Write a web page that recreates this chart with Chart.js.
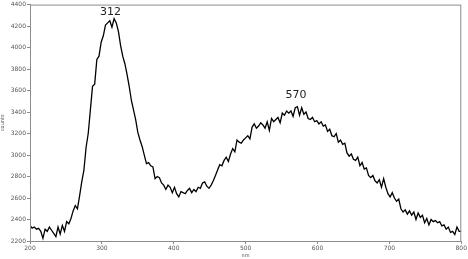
<!DOCTYPE html>
<html>
<head>
<meta charset="utf-8">
<script src="https://cdn.jsdelivr.net/npm/chart.js@4/dist/chart.umd.min.js"></script>
<style>
  html, body { margin: 0; padding: 0; background: #fff; }
  #wrap { width: 468px; height: 259px; }
</style>
</head>
<body>
<div id="wrap"><canvas id="spectrum" width="468" height="259"></canvas></div>
<script>
// wavelength (nm)
const wavelengths = [
  200, 203, 206, 209, 212, 215, 218, 221, 224, 227, 230, 233, 236, 239, 242, 245, 248, 251, 254, 257,
  260, 263, 266, 269, 272, 275, 278, 281, 284, 287, 290, 293, 296, 299, 302, 305, 308, 311, 314, 317,
  320, 323, 326, 329, 332, 335, 338, 341, 344, 347, 350, 353, 356, 359, 362, 365, 368, 371, 374, 377,
  380, 383, 386, 389, 392, 395, 398, 401, 404, 407, 410, 413, 416, 419, 422, 425, 428, 431, 434, 437,
  440, 443, 446, 449, 452, 455, 458, 461, 464, 467, 470, 473, 476, 479, 482, 485, 488, 491, 494, 497,
  500, 503, 506, 509, 512, 515, 518, 521, 524, 527, 530, 533, 536, 539, 542, 545, 548, 551, 554, 557,
  560, 563, 566, 569, 572, 575, 578, 581, 584, 587, 590, 593, 596, 599, 602, 605, 608, 611, 614, 617,
  620, 623, 626, 629, 632, 635, 638, 641, 644, 647, 650, 653, 656, 659, 662, 665, 668, 671, 674, 677,
  680, 683, 686, 689, 692, 695, 698, 701, 704, 707, 710, 713, 716, 719, 722, 725, 728, 731, 734, 737,
  740, 743, 746, 749, 752, 755, 758, 761, 764, 767, 770, 773, 776, 779, 782, 785, 788, 791, 794, 797,
  800
];

// counts
const counts = [
  2345, 2320, 2330, 2310, 2318, 2290, 2225, 2310, 2290, 2330, 2300, 2270, 2240, 2330, 2265, 2345, 2290, 2380, 2360, 2410,
  2480, 2530, 2500, 2620, 2750, 2860, 3070, 3200, 3420, 3640, 3660, 3890, 3920, 4050, 4110, 4210, 4230, 4250, 4190, 4270,
  4230, 4150, 4020, 3920, 3850, 3750, 3640, 3510, 3420, 3330, 3210, 3140, 3080, 3000, 2920, 2930, 2900, 2890, 2780, 2800,
  2790, 2740, 2720, 2680, 2720, 2700, 2650, 2700, 2640, 2610, 2660, 2650, 2640, 2670, 2690, 2650, 2680, 2660, 2700, 2690,
  2740, 2750, 2710, 2690, 2720, 2760, 2810, 2860, 2910, 2900, 2950, 2980, 2940, 3010, 3060, 3030, 3140, 3120, 3110, 3140,
  3160, 3180, 3150, 3260, 3290, 3250, 3270, 3300, 3280, 3250, 3310, 3230, 3340, 3310, 3330, 3350, 3300, 3390, 3370, 3410,
  3390, 3410, 3360, 3440, 3450, 3370, 3440, 3380, 3400, 3340, 3330, 3350, 3310, 3320, 3290, 3310, 3270, 3280, 3220, 3240,
  3180, 3170, 3200, 3120, 3140, 3100, 3110, 3020, 2990, 3010, 2960, 2950, 2980, 2900, 2930, 2870, 2880, 2810, 2790, 2810,
  2760, 2740, 2770, 2700, 2780, 2700, 2640, 2610, 2650, 2600, 2570, 2590, 2500, 2470, 2490, 2450, 2480, 2440, 2470, 2400,
  2460, 2420, 2440, 2370, 2410, 2350, 2400, 2380, 2390, 2370, 2380, 2340, 2350, 2310, 2330, 2280, 2290, 2260, 2330, 2290,
  2290
];

// peak labels
const peakNm = [312, 570];
const peakLabelCounts = [4280, 3510];

const points = wavelengths.map((w, i) => ({ x: w, y: counts[i] }));

const frameAndPeaks = {
  id: 'frameAndPeaks',
  afterDraw(chart) {
    const { ctx, chartArea, scales } = chart;
    ctx.save();
    ctx.strokeStyle = '#8c8c8c';
    ctx.lineWidth = 1;
    ctx.strokeRect(chartArea.left + 0.5, chartArea.top + 0.5,
      chartArea.right - chartArea.left - 1, chartArea.bottom - chartArea.top);
    ctx.fillStyle = '#222';
    ctx.font = '11px "DejaVu Sans"';
    ctx.textAlign = 'center';
    ctx.textBaseline = 'bottom';
    peakNm.forEach((nm, i) => {
      ctx.fillText(String(nm), scales.x.getPixelForValue(nm), scales.y.getPixelForValue(peakLabelCounts[i]));
    });
    ctx.restore();
  }
};

new Chart(document.getElementById('spectrum').getContext('2d'), {
  type: 'line',
  data: {
    datasets: [{
      data: points,
      borderColor: '#000',
      borderWidth: 1.3,
      pointRadius: 0,
      tension: 0,
      fill: false
    }]
  },
  options: {
    responsive: false,
    animation: false,
    layout: { padding: { top: 4, right: 6, left: 0, bottom: 0 } },
    plugins: {
      legend: { display: false },
      tooltip: { enabled: false }
    },
    scales: {
      x: {
        type: 'linear',
        min: 200,
        max: 800,
        afterFit: (s) => { s.height = 18; },
        ticks: {
          stepSize: 100,
          color: '#555',
          font: { family: 'DejaVu Sans', size: 6 },
          padding: 1,
          maxRotation: 0,
          callback: (v) => String(v)
        },
        grid: { drawOnChartArea: false, color: '#8c8c8c', tickLength: 3 },
        border: { color: '#8c8c8c' },
        title: {
          display: true,
          text: 'nm',
          color: '#555',
          font: { family: 'DejaVu Sans', size: 5 },
          padding: 0
        }
      },
      y: {
        min: 2200,
        max: 4400,
        afterFit: (s) => { s.width = 30; },
        ticks: {
          stepSize: 200,
          color: '#555',
          font: { family: 'DejaVu Sans', size: 6 },
          padding: 1,
          callback: (v) => String(v)
        },
        grid: { drawOnChartArea: false, color: '#8c8c8c', tickLength: 3 },
        border: { color: '#8c8c8c' },
        title: {
          display: true,
          text: 'counts',
          color: '#555',
          font: { family: 'DejaVu Sans', size: 5 },
          padding: 0
        }
      }
    }
  },
  plugins: [frameAndPeaks]
});
</script>
</body>
</html>
